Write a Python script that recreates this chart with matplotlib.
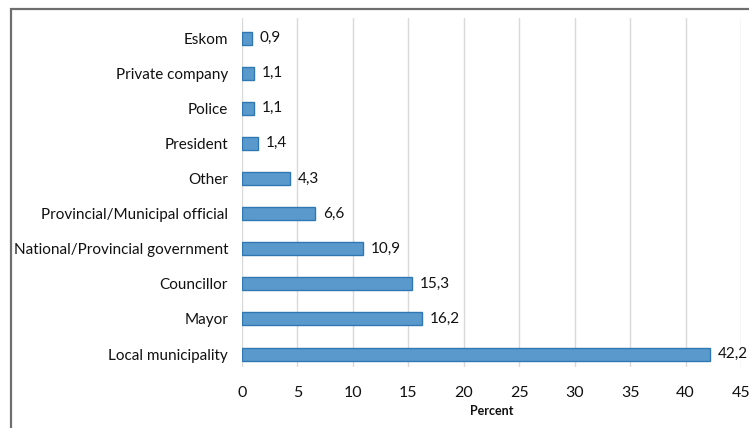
import matplotlib
matplotlib.use("Agg")
import matplotlib.pyplot as plt
from matplotlib.patches import Rectangle

categories = ["Local municipality", "Mayor", "Councillor", "National/Provincial government",
              "Provincial/Municipal official", "Other", "President", "Police",
              "Private company", "Eskom"]
values = [42.2, 16.2, 15.3, 10.9, 6.6, 4.3, 1.4, 1.1, 1.1, 0.9]
xticks = [0, 5, 10, 15, 20, 25, 30, 35, 40, 45]

plt.rcParams["font.family"] = ["Lato", "DejaVu Sans"]

fig = plt.figure(figsize=(7.49, 4.28), dpi=100)
ax = fig.add_axes([242 / 749, 1 - 367 / 428, (741 - 242) / 749, (367 - 18) / 428])

# outer frame of the chart
fig.patches.append(Rectangle((11 / 749, -0.1), 1.2, 1 - 9 / 428 + 0.1,
                             transform=fig.transFigure, fill=False,
                             edgecolor="#6e6e6e", linewidth=1.6))

ypos = list(range(len(categories)))
ax.barh(ypos, values, height=0.37, color="#5a99cc", edgecolor="#2f78b4", linewidth=1.0, zorder=3)

txt = "#111111"
for y, v in zip(ypos, values):
    ax.text(v + 0.7, y, f"{v:.1f}".replace(".", ","), va="center", ha="left",
            fontsize=11, color=txt, zorder=4)

ax.set_yticks(ypos)
ax.set_yticklabels(categories, fontsize=11, color=txt)
ax.set_xticks(xticks)
ax.set_xticklabels([str(t) for t in xticks], fontsize=11.5, color=txt)
ax.set_xlim(0, 45)
ax.set_ylim(-0.37, 9.57)
ax.set_xlabel("Percent", fontsize=9, fontweight="bold", color=txt, labelpad=3)

ax.grid(axis="x", color="#d9d9d9", linewidth=1.0, zorder=0)
ax.tick_params(axis="both", length=0)
ax.tick_params(axis="y", pad=10)
ax.tick_params(axis="x", pad=14)
for s in ax.spines.values():
    s.set_visible(False)

fig.savefig("out.png", dpi=100)
